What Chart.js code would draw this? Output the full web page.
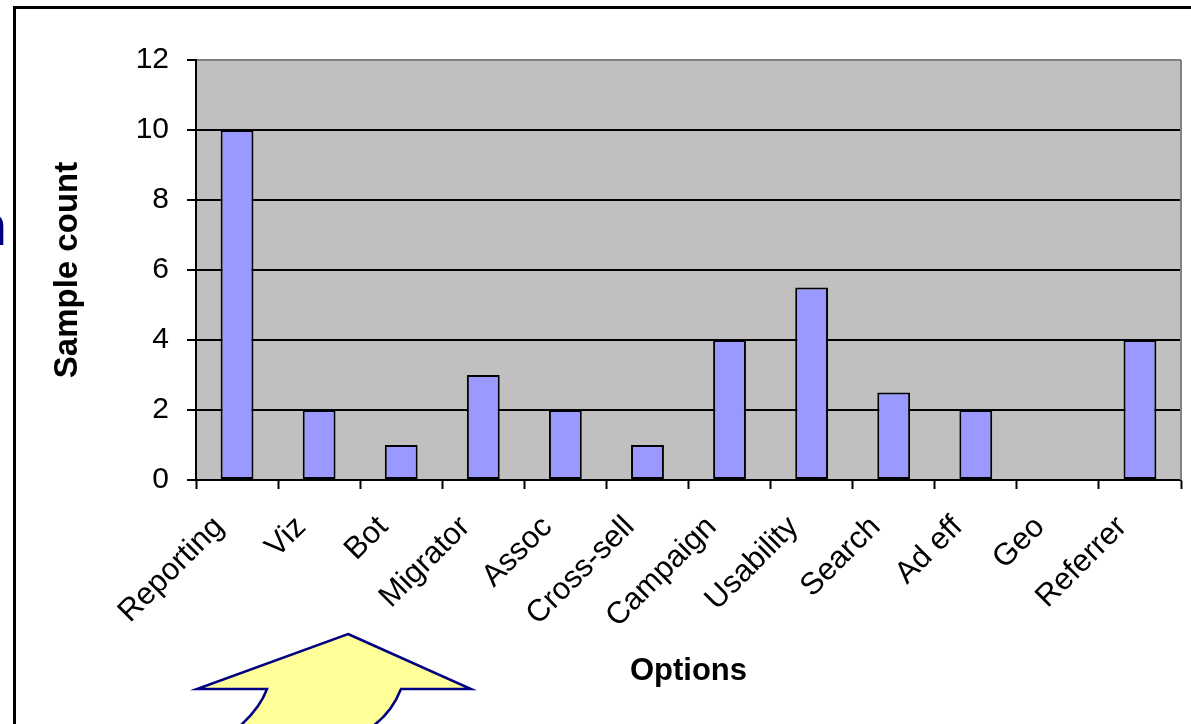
<!DOCTYPE html>
<html>
<head>
<meta charset="utf-8">
<script src="https://cdn.jsdelivr.net/npm/chart.js@4"></script>
<style>
  html, body { margin: 0; padding: 0; background: #fff; }
  #wrap { position: relative; width: 1191px; height: 724px; }
</style>
</head>
<body>
<div id="wrap"><canvas id="optionsChart" width="1191" height="724"></canvas></div>
<script>
const categories = ['Reporting', 'Viz', 'Bot', 'Migrator', 'Assoc', 'Cross-sell', 'Campaign', 'Usability', 'Search', 'Ad eff', 'Geo', 'Referrer'];
const sampleCounts = [10, 2, 1, 3, 2, 1, 4, 5.5, 2.5, 2, 0, 4];
const yTicks = [0, 2, 4, 6, 8, 10, 12];

const decor = {
    id: 'decor',
    beforeDraw(chart) {
        const ctx = chart.ctx;
        const a = chart.chartArea;
        ctx.save();
        // page frame
        ctx.strokeStyle = '#000';
        ctx.lineWidth = 3;
        ctx.beginPath();
        ctx.moveTo(14.5, 724);
        ctx.lineTo(14.5, 7.5);
        ctx.lineTo(1191, 7.5);
        ctx.stroke();
        // plot background
        ctx.fillStyle = '#c0c0c0';
        ctx.fillRect(a.left, a.top, a.right - a.left, a.bottom - a.top);
        // cut-off glyph at the left edge
        ctx.fillStyle = '#000080';
        ctx.font = 'bold 58px "Liberation Sans", Arial, sans-serif';
        ctx.textAlign = 'right';
        ctx.textBaseline = 'alphabetic';
        ctx.fillText('n', 7, 245);
        ctx.restore();
    },
    afterDatasetsDraw(chart) {
        const ctx = chart.ctx;
        const a = chart.chartArea;
        ctx.save();
        ctx.strokeStyle = '#808080';
        ctx.lineWidth = 2;
        ctx.beginPath();
        ctx.moveTo(a.right, a.top);
        ctx.lineTo(a.right, a.bottom);
        ctx.stroke();
        ctx.restore();
    },
    afterDraw(chart) {
        const ctx = chart.ctx;
        ctx.save();
        ctx.fillStyle = '#ffff99';
        ctx.strokeStyle = '#000080';
        ctx.lineWidth = 2.5;
        ctx.beginPath();
        ctx.moveTo(348, 634);
        ctx.lineTo(471, 689);
        ctx.lineTo(401, 689);
        ctx.quadraticCurveTo(392, 712, 373, 726);
        ctx.lineTo(240, 726);
        ctx.quadraticCurveTo(260, 708, 267, 689);
        ctx.lineTo(197, 689);
        ctx.closePath();
        ctx.fill();
        ctx.stroke();
        ctx.restore();
    }
};

const font = '"Liberation Sans", Arial, sans-serif';

new Chart(document.getElementById('optionsChart').getContext('2d'), {
    type: 'bar',
    data: {
        labels: categories,
        datasets: [{
            label: 'Sample count',
            data: sampleCounts,
            backgroundColor: '#9999ff',
            borderColor: '#000',
            borderWidth: 2,
            borderSkipped: false,
            categoryPercentage: 1,
            barPercentage: 0.4
        }]
    },
    options: {
        responsive: false,
        animation: false,
        layout: { padding: { left: 0, top: 60, right: 10, bottom: 0 } },
        plugins: {
            legend: { display: false },
            tooltip: { enabled: false }
        },
        scales: {
            x: {
                grid: {
                    offset: true,
                    drawOnChartArea: false,
                    drawTicks: true,
                    tickLength: 9,
                    tickColor: '#000',
                    tickWidth: 2
                },
                border: { color: '#000', width: 2 },
                ticks: {
                    color: '#000',
                    font: { family: font, size: 31 },
                    minRotation: 45,
                    maxRotation: 45,
                    autoSkip: false,
                    padding: 20,
                    labelOffset: -18
                },
                title: {
                    display: true,
                    text: 'Options',
                    color: '#000',
                    font: { family: font, size: 31, weight: 'bold' },
                    padding: { top: 0, bottom: 34 }
                },
                afterFit(scale) { scale.height = 244; }
            },
            y: {
                min: 0,
                max: 12,
                afterBuildTicks(scale) { scale.ticks = yTicks.map(v => ({ value: v })); },
                grid: {
                    color: ctx => (ctx.tick && ctx.tick.value === 12) ? '#808080' : '#000',
                    lineWidth: 2,
                    drawTicks: true,
                    tickLength: 9,
                    tickColor: '#000',
                    tickWidth: 2
                },
                border: { color: '#000', width: 2 },
                ticks: {
                    color: '#000',
                    font: { family: font, size: 30 },
                    padding: 18
                },
                title: {
                    display: true,
                    text: 'Sample count',
                    color: '#000',
                    font: { family: font, size: 33, weight: 'bold' },
                    padding: { top: 48, bottom: 0 }
                },
                afterFit(scale) { scale.width = 196; }
            }
        }
    },
    plugins: [decor]
});
</script>
</body>
</html>
